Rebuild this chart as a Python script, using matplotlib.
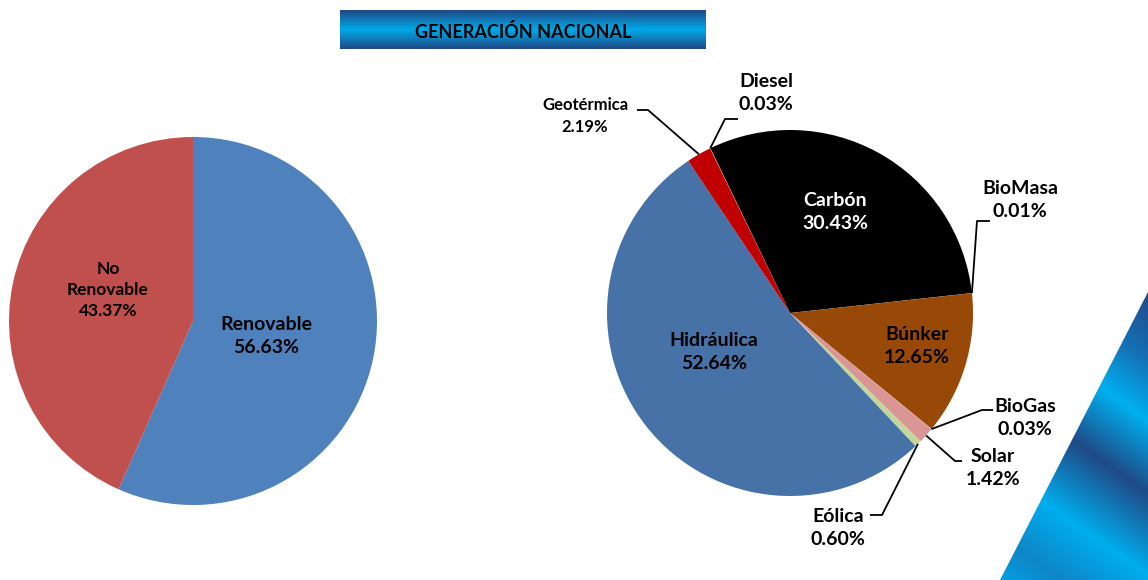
import numpy as np
import matplotlib
matplotlib.use("Agg")
import matplotlib.pyplot as plt
import matplotlib.patches as mpatches
from matplotlib.colors import LinearSegmentedColormap, to_rgb

plt.rcParams['font.family'] = ['Lato', 'DejaVu Sans']
plt.rcParams['font.weight'] = 'bold'

# left pie: renovable vs no renovable
tipo_labels = ["Renovable", "No\nRenovable"]
tipo_vals = [56.63, 43.37]
tipo_colors = ["#4F81BD", "#C0504D"]

# right pie: generation by source (clockwise from Carbón)
fuente_labels = ["Carbón", "BioMasa", "Búnker", "BioGas", "Solar", "Eólica",
                 "Hidráulica", "Geotérmica", "Diesel"]
fuente_vals = [30.43, 0.01, 12.65, 0.03, 1.42, 0.60, 52.64, 2.19, 0.03]
fuente_colors = ["#000000", "#7F7F7F", "#984807", "#E6B9B8", "#D99694", "#C3D69B",
                 "#4672A8", "#C00000", "#F79646"]

W, H = 1148, 580

def P(x, y):
    # picture pixel coords (y down) -> axes coords (y up)
    return (x, H - y)

fig = plt.figure(figsize=(W / 100, H / 100), dpi=100)
ax = fig.add_axes([0, 0, 1, 1])

# --- left pie
c1, r1 = P(193, 321), 184
w1, _ = ax.pie(tipo_vals, colors=tipo_colors, startangle=90, counterclock=False,
               center=c1, radius=r1, wedgeprops=dict(linewidth=0))

lbl1 = {"Renovable": (266, 336, 14), "No\nRenovable": (108, 290, 12.5)}
for lab, v in zip(tipo_labels, tipo_vals):
    x, y, fs = lbl1[lab]
    ax.text(*P(x, y), "%s\n%.2f%%" % (lab, v), ha="center", va="center",
            fontsize=fs, fontweight="bold", linespacing=1.4)

# --- right pie
c2, r2 = P(790, 313), 183
start = 115.8
w2, _ = ax.pie(fuente_vals, colors=fuente_colors, startangle=start, counterclock=False,
               center=c2, radius=r2, wedgeprops=dict(linewidth=0))

# mid angles of each wedge
mids = []
a = start
for v in fuente_vals:
    span = v / sum(fuente_vals) * 360
    mids.append(a - span / 2)
    a -= span

# text centre, text colour
inside = {"Carbón": ((835, 212), "white"), "Búnker": ((917, 346), "black"),
          "Hidráulica": ((714, 352), "black")}
# text centre, elbow start, elbow end, fontsize
outside = {
    "Geotérmica": ((585, 116), (637, 110), (648, 110), 12),
    "Diesel": ((766, 93), (738, 119), (725, 119), 14),
    "BioMasa": ((1020, 200), (990, 221), (977, 221), 14),
    "BioGas": ((1025, 418), (993, 410), (982, 410), 14),
    "Solar": ((993, 468), (962, 461), (955, 461), 14),
    "Eólica": ((838, 528), (870, 515), (882, 515), 14),
}

for lab, v, m in zip(fuente_labels, fuente_vals, mids):
    txt = "%s\n%.2f%%" % (lab, v)
    if lab in inside:
        pos, col = inside[lab]
        ax.text(*P(*pos), txt, ha="center", va="center", color=col,
                fontsize=14, fontweight="bold", linespacing=1.4)
    else:
        (tx, ty), e0, e1, fs = outside[lab]
        ax.text(*P(tx, ty), txt, ha="center", va="center",
                fontsize=fs, fontweight="bold", linespacing=1.4)
        ex = c2[0] + r2 * np.cos(np.radians(m))
        ey = c2[1] + r2 * np.sin(np.radians(m))
        p0, p1 = P(*e0), P(*e1)
        ax.plot([p0[0], p1[0], ex], [p0[1], p1[1], ey], color="black", lw=1.3,
                solid_capstyle="butt", zorder=5)

# --- title box with vertical gradient
tb = mpatches.Rectangle(P(340, 49), 366, 39, facecolor="none", edgecolor="none")
ax.add_patch(tb)
grad_cmap = LinearSegmentedColormap.from_list("tb", ["#1F4A86", "#00AAE8", "#1F4A86"])
g = np.linspace(0, 1, 64).reshape(-1, 1)
im = ax.imshow(g, cmap=grad_cmap, aspect="auto", extent=(340, 706, H - 49, H - 10),
               interpolation="bicubic", zorder=1)
im.set_clip_path(tb)
ax.text(*P(523, 32), "GENERACIÓN NACIONAL", ha="center", va="center",
        fontsize=13, fontweight="bold", zorder=3)

# --- decorative diagonal stripe bottom right
poly = mpatches.Polygon([P(1000, 580), P(1148, 292), P(1148, 580)], closed=True,
                        facecolor="none", edgecolor="none")
ax.add_patch(poly)
xs = np.linspace(995, 1148, 160)
ys = np.linspace(285, 580, 300)
X, Y = np.meshgrid(xs, ys)
t = Y - 0.7 * (X - 1148)
stops = [300, 360, 420, 493, 575, 640, 700]
cols = [to_rgb(c) for c in ["#1E4F8F", "#1570B5", "#00B0F0", "#1F4A86",
                            "#00AEEE", "#0E86C8", "#00A8E8"]]
img = np.dstack([np.interp(t, stops, [c[k] for c in cols]) for k in range(3)])
im2 = ax.imshow(img, aspect="auto", origin="upper",
                extent=(995, 1148, H - 580, H - 285), interpolation="bilinear", zorder=0)
im2.set_clip_path(poly)

ax.set_xlim(0, W)
ax.set_ylim(0, H)
ax.set_aspect("auto")
ax.axis("off")

fig.savefig("out.png", dpi=100)
